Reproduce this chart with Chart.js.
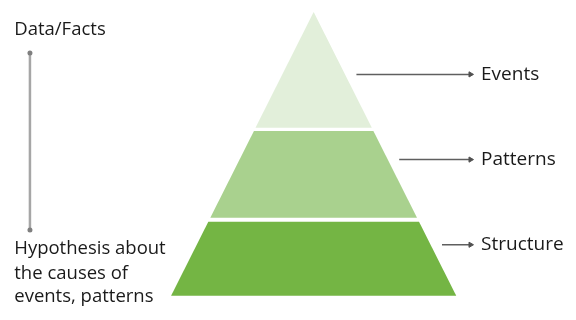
<!DOCTYPE html>
<html>
<head>
<meta charset="utf-8">
<script src="https://cdn.jsdelivr.net/npm/chart.js@4.4.0/dist/chart.umd.min.js"></script>
<style>
  html, body { margin: 0; padding: 0; background: #fff; }
  #wrap { width: 576px; height: 320px; }
</style>
</head>
<body>
<div id="wrap"><canvas id="pyramid"></canvas></div>
<script>
// pyramid levels, top to bottom (height units: base = 0, apex = 100)
const levels = ['Events', 'Patterns', 'Structure'];
const tierBottom = [59.2, 27.5, 0];
const tierTop = [100, 58.1, 26.1];
const tierColors = ['#e2efda', '#a9d18e', '#74b544'];
const labelLevel = [78, 48, 18];

const topNote = 'Data/Facts';
const bottomNote = ['Hypothesis about', 'the causes of', 'events, patterns'];

const halfWidth = h => (100 - h) / 2;

const datasets = [];

levels.forEach((name, i) => {
    const b = tierBottom[i], t = tierTop[i];
    datasets.push({
        label: name,
        data: [
            { x: -halfWidth(b), y: b },
            { x: -halfWidth(t), y: t },
            { x: halfWidth(t), y: t },
            { x: halfWidth(b), y: b },
            { x: -halfWidth(b), y: b }
        ],
        showLine: true,
        fill: 'shape',
        backgroundColor: tierColors[i],
        borderColor: tierColors[i],
        borderWidth: 0,
        pointRadius: 0,
        tension: 0
    });
});

// arrows from the pyramid side to each label
const arrowEnd = 55;
levels.forEach((name, i) => {
    const h = labelLevel[i];
    datasets.push({
        label: name + ' arrow',
        data: [{ x: halfWidth(h) + 4, y: h }, { x: arrowEnd, y: h }],
        showLine: true,
        borderColor: '#5f5f5f',
        borderWidth: 1.5,
        pointStyle: 'triangle',
        pointRotation: [0, 90],
        pointRadius: [0, 3],
        pointBackgroundColor: '#505050',
        pointBorderColor: '#505050',
        pointBorderWidth: 1
    });
});

// vertical scale line on the left
datasets.push({
    label: 'scale',
    data: [{ x: -99.5, y: 85.5 }, { x: -99.5, y: 23.2 }],
    showLine: true,
    borderColor: '#a6a6a6',
    borderWidth: 2.5,
    pointRadius: 2.5,
    pointBackgroundColor: '#7f7f7f',
    pointBorderColor: '#7f7f7f',
    pointBorderWidth: 0
});

const textPlugin = {
    id: 'pyramidText',
    afterDatasetsDraw(chart) {
        const ctx = chart.ctx;
        const xs = chart.scales.x, ys = chart.scales.y;
        ctx.save();
        ctx.fillStyle = '#1a1a1a';
        ctx.textBaseline = 'middle';
        ctx.textAlign = 'left';
        ctx.font = '19px "Open Sans"';
        levels.forEach((name, i) => {
            ctx.fillText(name, xs.getPixelForValue(58.7), ys.getPixelForValue(labelLevel[i]));
        });
        ctx.textBaseline = 'alphabetic';
        ctx.font = '18.5px "Open Sans"';
        ctx.fillText(topNote, xs.getPixelForValue(-105), ys.getPixelForValue(91.9));
        const lineLevels = [14.6, 6.1, -2.3];
        bottomNote.forEach((line, i) => {
            ctx.fillText(line, xs.getPixelForValue(-105), ys.getPixelForValue(lineLevels[i]));
        });
        ctx.restore();
    }
};

new Chart(document.getElementById('pyramid'), {
    type: 'scatter',
    data: { datasets: datasets },
    options: {
        responsive: true,
        maintainAspectRatio: false,
        animation: false,
        clip: false,
        layout: { padding: 0, autoPadding: false },
        plugins: {
            legend: { display: false },
            tooltip: { enabled: false }
        },
        scales: {
            x: { type: 'linear', min: -110, max: 92, display: false },
            y: { type: 'linear', min: -8.5, max: 104.2, display: false }
        }
    },
    plugins: [textPlugin]
});
</script>
</body>
</html>
